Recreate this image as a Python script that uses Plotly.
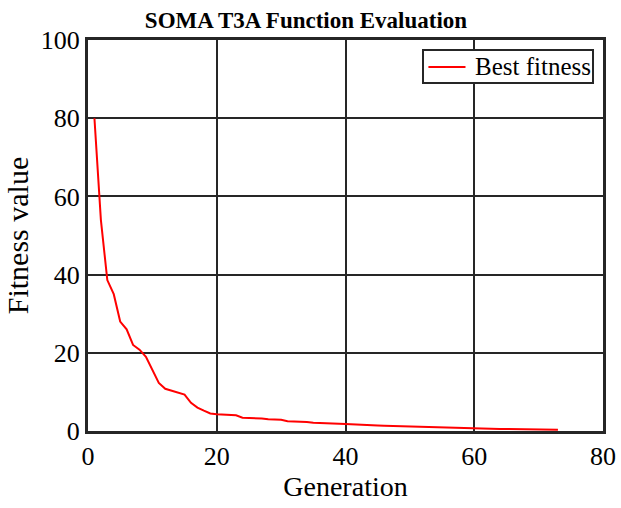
import plotly.graph_objects as go

generations = list(range(1, 74))
best_fitness = [80, 54, 38.6, 35, 28, 26, 22, 20.8, 19, 15.5,
                12.3, 10.8, 10.3, 9.9, 9.3, 7.2, 6.0, 5.2, 4.5, 4.3,
                4.2, 4.1, 4.0, 3.4, 3.35, 3.3, 3.2, 3.0, 2.9, 2.85,
                2.5, 2.45, 2.4, 2.3, 2.1, 2.0, 1.95, 1.9, 1.85, 1.8,
                1.7, 1.55, 1.5, 1.45, 1.4, 1.35, 1.3, 1.15, 1.1, 1.05,
                1.0, 0.95, 0.9, 0.85, 0.8, 0.75, 0.72, 0.68, 0.65, 0.6,
                0.58, 0.56, 0.54, 0.52, 0.5, 0.48, 0.46, 0.44, 0.42, 0.4,
                0.38, 0.36, 0.35]
series_name = "Best fitness"

FONT = "Liberation Serif"
GRID = "#262626"
RED = "#ff0000"

fig = go.Figure()
fig.add_trace(go.Scatter(x=generations, y=best_fitness, mode="lines",
                         name=series_name, showlegend=False,
                         line=dict(color=RED, width=2)))

# legend box drawn in paper coordinates (MATLAB-style compact legend)
fig.add_shape(type="rect", xref="paper", yref="paper",
              x0=0.6505, x1=0.9806, y0=0.890, y1=0.9744,
              line=dict(color=GRID, width=2), fillcolor="white", layer="above")
fig.add_shape(type="line", xref="paper", yref="paper",
              x0=0.661, x1=0.733, y0=0.931, y1=0.931,
              line=dict(color=RED, width=2), layer="above")
fig.add_annotation(xref="paper", yref="paper", x=0.748, y=0.931,
                   xanchor="left", yanchor="middle", showarrow=False,
                   text=series_name, font=dict(family=FONT, size=25, color="#000000"))

fig.update_layout(
    width=621, height=508,
    margin=dict(l=88, r=18, t=40, b=77, autoexpand=False),
    paper_bgcolor="white", plot_bgcolor="white",
    font=dict(family=FONT, size=26, color="#000000"),
    title=dict(text="<b>SOMA T3A Function Evaluation</b>", x=306 / 621, xanchor="center",
               xref="container", yref="container", y=1 - 19.5 / 508, yanchor="middle",
               font=dict(family=FONT, size=23, color="#000000")),
    showlegend=False,
    xaxis=dict(range=[0, 80], tickvals=[0, 20, 40, 60, 80], automargin=False,
               showgrid=True, gridcolor=GRID, gridwidth=2,
               showline=True, linecolor=GRID, linewidth=3, mirror=True,
               zeroline=False, ticks="", tickfont=dict(family=FONT, size=26, color="#000000"),
               title=dict(text="Generation", font=dict(family=FONT, size=28, color="#000000"),
                          standoff=2)),
    yaxis=dict(range=[0, 100], tickvals=[0, 20, 40, 60, 80, 100], automargin=False,
               showgrid=True, gridcolor=GRID, gridwidth=2,
               showline=True, linecolor=GRID, linewidth=3, mirror=True,
               zeroline=False, ticks="", tickfont=dict(family=FONT, size=26, color="#000000"),
               title=dict(text="Fitness value", font=dict(family=FONT, size=30, color="#000000"),
                          standoff=4)),
)

fig.write_html("out.html")
